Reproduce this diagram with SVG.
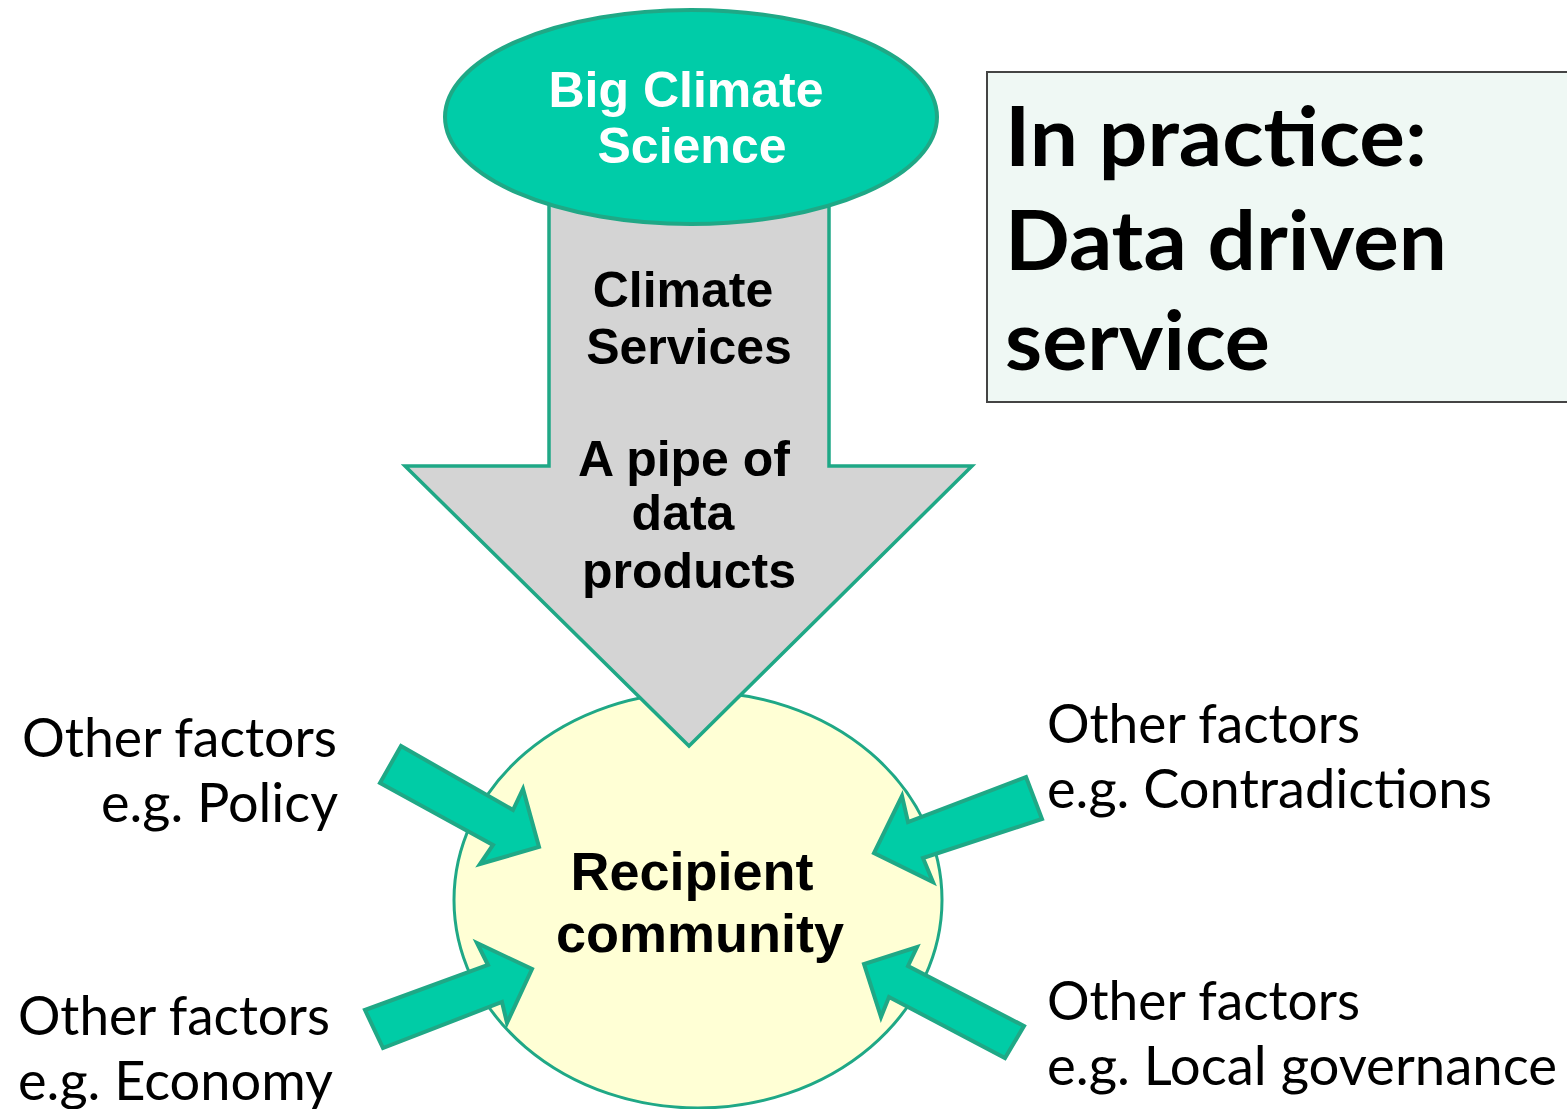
<svg xmlns="http://www.w3.org/2000/svg" width="1567" height="1109" viewBox="0 0 1567 1109">
<style>
.arial{font-family:"Liberation Sans",Arial,sans-serif;font-weight:bold;text-anchor:middle}
.cal{font-family:Lato,"Open Sans",sans-serif;font-size:54px;fill:#000}
.title{font-family:Lato,"Open Sans",sans-serif;font-weight:bold;font-size:82px;fill:#000}
.small{fill:#00CCA6;stroke:#1FA886;stroke-width:4;stroke-linejoin:miter}
</style>
<rect width="1567" height="1109" fill="#fff"/>
<g id="recipient">
<ellipse cx="698" cy="900" rx="244" ry="208" fill="#FFFFD5" stroke="#1FA886" stroke-width="3"/>
</g>
<g id="connectors">
<polygon id="pipe" points="549,200 829,200 829,466 972,466 689,746 405,466 549,466" fill="#D4D4D4" stroke="#1FA886" stroke-width="3.5"/>
<polygon class="small" points="401,746 513,810 523,789 539,847 480,864 493,845 380,783"/>
<polygon class="small" points="365,1010 488,965 477,943 532,969 507,1023 502,1002 383,1048"/>
<polygon class="small" points="1026,777 1042,819 923,858 933,882 874,853 902,796 908,822"/>
<polygon class="small" points="1024,1026 908,966 917,947 864,964 881,1017 889,997 1005,1058"/>
</g>
<g id="big-climate-science">
<ellipse cx="691" cy="117" rx="246" ry="107" fill="#00CCA8" stroke="#1FA886" stroke-width="4"/>
<text class="arial" x="686" y="107" font-size="50" fill="#fff">Big Climate</text>
<text class="arial" x="692" y="163" font-size="50" fill="#fff">Science</text>
</g>
<g id="pipe-labels">
<text class="arial" x="683" y="307" font-size="50" fill="#000">Climate</text>
<text class="arial" x="689" y="364" font-size="50" fill="#000">Services</text>
<text class="arial" x="684" y="476" font-size="50" fill="#000">A pipe of</text>
<text class="arial" x="683" y="530" font-size="50" fill="#000">data</text>
<text class="arial" x="689" y="588" font-size="50" fill="#000">products</text>
</g>
<g id="recipient-label">
<text class="arial" x="692" y="890" font-size="54" fill="#000">Recipient</text>
<text class="arial" x="700" y="952" font-size="54" fill="#000">community</text>
</g>
<g id="title-box">
<rect x="987" y="72" width="585" height="330" fill="#EFF8F4" stroke="#444" stroke-width="2"/>
<text class="title" x="1005" y="166" textLength="422" lengthAdjust="spacingAndGlyphs">In practice:</text>
<text class="title" x="1005" y="270" textLength="442" lengthAdjust="spacingAndGlyphs">Data driven</text>
<text class="title" x="1005" y="370" textLength="265" lengthAdjust="spacingAndGlyphs">service</text>
</g>
<g id="factor-policy">
<text class="cal" x="22" y="757" textLength="315" lengthAdjust="spacingAndGlyphs">Other factors</text>
<text class="cal" x="101" y="822" textLength="237" lengthAdjust="spacingAndGlyphs">e.g. Policy</text>
</g>
<g id="factor-economy">
<text class="cal" x="18" y="1035" textLength="312" lengthAdjust="spacingAndGlyphs">Other factors</text>
<text class="cal" x="18" y="1100" textLength="315" lengthAdjust="spacingAndGlyphs">e.g. Economy</text>
</g>
<g id="factor-contradictions">
<text class="cal" x="1047" y="743" textLength="313" lengthAdjust="spacingAndGlyphs">Other factors</text>
<text class="cal" x="1047" y="808" textLength="445" lengthAdjust="spacingAndGlyphs">e.g. Contradictions</text>
</g>
<g id="factor-governance">
<text class="cal" x="1047" y="1020" textLength="313" lengthAdjust="spacingAndGlyphs">Other factors</text>
<text class="cal" x="1047" y="1085" textLength="510" lengthAdjust="spacingAndGlyphs">e.g. Local governance</text>
</g>
</svg>
